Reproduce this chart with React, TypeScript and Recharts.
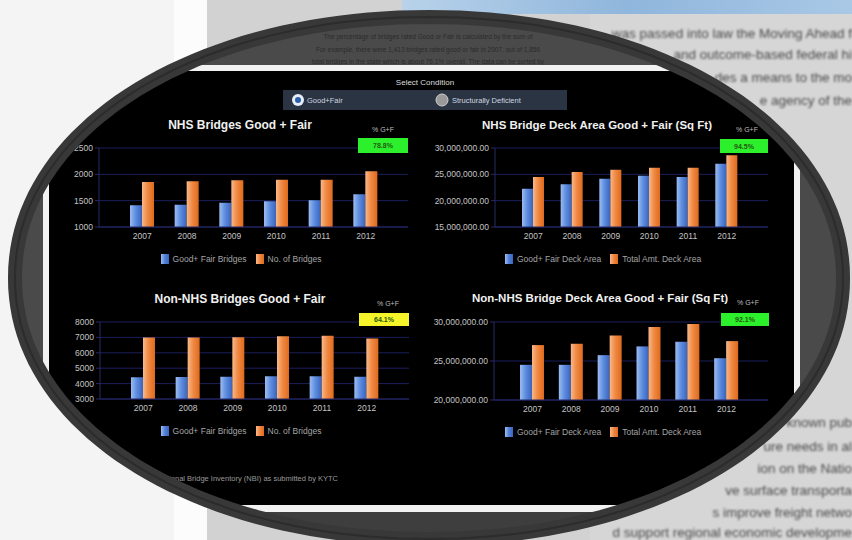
import { BarChart, Bar, XAxis, YAxis, CartesianGrid, Legend } from "recharts";

const years = ["2007", "2008", "2009", "2010", "2011", "2012"];

// NHS bridges (count)
const nhsGoodFair = [1411, 1424, 1462, 1487, 1506, 1620];
const nhsTotal = [1854, 1867, 1886, 1899, 1899, 2057];
// NHS deck area (sq ft)
const nhsDeckGoodFair = [22280000, 23100000, 24180000, 24750000, 24490000, 27030000];
const nhsDeckTotal = [24490000, 25440000, 25890000, 26270000, 26270000, 28610000];
// Non-NHS bridges (count)
const nonNhsGoodFair = [4420, 4430, 4450, 4470, 4480, 4440];
const nonNhsTotal = [6990, 6995, 7015, 7075, 7100, 6930];
// Non-NHS deck area (sq ft)
const nonNhsDeckGoodFair = [24510000, 24510000, 25750000, 26870000, 27470000, 25360000];
const nonNhsDeckTotal = [27040000, 27210000, 28280000, 29360000, 29740000, 27550000];

const countTicksNhs = [1000, 1500, 2000, 2500];
const countTicksNonNhs = [3000, 4000, 5000, 6000, 7000, 8000];
const areaTicksNhs = [15000000, 20000000, 25000000, 30000000];
const areaTicksNonNhs = [20000000, 25000000, 30000000];

const FONT = "'Liberation Sans', Arial, sans-serif";
const GRID = "#1b1f5c";

const fmtArea = (v: number) =>
  v.toLocaleString("en-US", { minimumFractionDigits: 2, maximumFractionDigits: 2 });

function ovalPath(cx: number, cy: number, a: number, b: number, n: number) {
  const pts: string[] = [];
  for (let i = 0; i < 360; i += 2) {
    const t = (i * Math.PI) / 180;
    const c = Math.cos(t);
    const s = Math.sin(t);
    const x = cx + a * Math.sign(c) * Math.pow(Math.abs(c), 2 / n);
    const y = cy + b * Math.sign(s) * Math.pow(Math.abs(s), 2 / n);
    pts.push(`${x.toFixed(1)},${y.toFixed(1)}`);
  }
  return "M" + pts.join("L") + "Z";
}

const OVAL = ovalPath(429, 278, 414, 261, 2.05);

type PanelCfg = {
  id: string;
  left: number;
  top: number;
  width: number;
  height: number;
  yWidth: number;
  domain: [number, number];
  ticks: number[];
  fmt?: (v: number) => string;
  good: number[];
  total: number[];
  names: [string, string];
  padL: number;
  padR: number;
  barSize: number;
  legendCenter: number;
};

function LegendRow({ names, id }: { names: [string, string]; id: string }) {
  const sq = (bg: string) => (
    <span
      style={{
        display: "inline-block",
        width: 8,
        height: 10,
        background: bg,
        marginRight: 4,
      }}
    />
  );
  return (
    <div
      key={id}
      style={{
        height: 22,
        display: "flex",
        alignItems: "center",
        justifyContent: "center",
        fontFamily: FONT,
        fontSize: 8.5,
        color: "#a5a5a5",
        whiteSpace: "nowrap",
      }}
    >
      {sq("linear-gradient(90deg,#9dbcf0,#4f7fd6 50%,#3c66c0)")}
      <span style={{ marginRight: 9 }}>{names[0]}</span>
      {sq("linear-gradient(90deg,#f7b98a,#ef8640 50%,#e06a1c)")}
      <span>{names[1]}</span>
    </div>
  );
}

function Panel(c: PanelCfg) {
  const data = years.map((y, i) => ({ year: y, good: c.good[i], total: c.total[i] }));
  const tickStyle = { fill: "#c4c4c4", fontSize: 8.5, fontFamily: FONT };
  return (
    <div style={{ position: "absolute", left: c.left, top: c.top }}>
      <BarChart
        width={c.width}
        height={c.height}
        data={data}
        margin={{ top: 8, right: 12, left: 0, bottom: 0 }}
        barGap={0}
      >
        <defs>
          <linearGradient id={`gb-${c.id}`} x1="0" y1="0" x2="1" y2="0">
            <stop offset="0%" stopColor="#9dbcf0" />
            <stop offset="45%" stopColor="#5f8fe0" />
            <stop offset="100%" stopColor="#3a63bd" />
          </linearGradient>
          <linearGradient id={`go-${c.id}`} x1="0" y1="0" x2="1" y2="0">
            <stop offset="0%" stopColor="#f8b98a" />
            <stop offset="45%" stopColor="#f08a45" />
            <stop offset="100%" stopColor="#df6a1c" />
          </linearGradient>
        </defs>
        <CartesianGrid vertical={false} stroke={GRID} />
        <XAxis
          dataKey="year"
          tick={tickStyle}
          tickLine={false}
          tickSize={4}
          height={21}
          axisLine={{ stroke: "#262a66" }}
          padding={{ left: c.padL, right: c.padR }}
        />
        <YAxis
          width={c.yWidth}
          domain={c.domain}
          ticks={c.ticks}
          interval={0}
          allowDataOverflow
          tickFormatter={c.fmt}
          tick={tickStyle}
          tickSize={4}
          tickLine={{ stroke: "#262a66" }}
          axisLine={{ stroke: "#262a66" }}
        />
        <Legend
          verticalAlign="bottom"
          height={22}
          wrapperStyle={{ left: c.legendCenter - 110, width: 220, height: 22 }}
          content={() => <LegendRow names={c.names} id={c.id} />}
        />
        <Bar dataKey="good" name={c.names[0]} fill={`url(#gb-${c.id})`} barSize={c.barSize} isAnimationActive={false} />
        <Bar dataKey="total" name={c.names[1]} fill={`url(#go-${c.id})`} barSize={c.barSize} isAnimationActive={false} />
      </BarChart>
    </div>
  );
}

const rightTextTop = [
  { y: 38, t: "was passed into law the Moving Ahead f" },
  { y: 59, t: "and outcome-based federal hi" },
  { y: 82, t: "des a means to the mo" },
  { y: 105, t: "e agency of the" },
];
const rightTextBottom = [
  { y: 427, t: "known pub" },
  { y: 451, t: "ure needs in al" },
  { y: 473, t: "ion on the Natio" },
  { y: 495, t: "ve surface transporta" },
  { y: 517, t: "s improve freight netwo" },
  { y: 537, t: "d support regional economic developme" },
];
const innerText = [
  "The percentage of bridges rated Good or Fair is calculated by the sum of",
  "For example, there were 1,413 bridges rated good or fair in 2007, out of 1,856",
  "total bridges in the state which is about 76.1% overall. The data can be sorted by",
];

function Badge({ x, y, w, h, fill, text, labelX, labelY }: any) {
  return (
    <g fontFamily={FONT}>
      <text x={labelX} y={labelY} fontSize={7} fill="#bdbdbd" textAnchor="middle">
        % G+F
      </text>
      <rect x={x} y={y} width={w} height={h} fill={fill} />
      <text x={x + w / 2} y={y + h / 2 + 2.5} fontSize={7} fill="#245a10" textAnchor="middle" fontWeight="bold">
        {text}
      </text>
    </g>
  );
}

export default function App() {
  return (
    <div style={{ position: "absolute", left: 0, top: 0, width: 852, height: 540, overflow: "hidden", background: "#4a4a4a" }}>
      {/* inside of the oval: darkened page and dashboard panel */}
      <svg width={852} height={540} style={{ position: "absolute", left: 0, top: 0 }}>
        <rect x={0} y={0} width={852} height={540} fill="#4a4a4a" />
        <rect x={0} y={512} width={852} height={28} fill="#3e3e3e" />
        {innerText.map((t, i) => (
          <text key={i} x={428} y={39 + i * 12.5} fontSize={6.5} fill="#2b2b2b" textAnchor="middle" fontFamily={FONT}>
            {t}
          </text>
        ))}
        <rect x={43} y={65} width={757} height={447} fill="#f2f2f2" />
        <rect x={49} y={71} width={745} height={434} fill="#000" />
        <text x={425} y={85} fontSize={8} fill="#dcdcdc" textAnchor="middle" fontFamily={FONT}>
          Select Condition
        </text>
        <rect x={283} y={90} width={284} height={20} fill="#2a3442" />
        <circle cx={298} cy={100} r={6} fill="#e6edf7" />
        <circle cx={298} cy={100} r={3} fill="#2a5ea8" />
        <text x={307} y={103} fontSize={7.5} fill="#cfd6e0" fontFamily={FONT}>
          Good+Fair
        </text>
        <circle cx={442} cy={100} r={6} fill="#9a9a9a" stroke="#cfcfcf" strokeWidth={1} />
        <text x={452} y={103} fontSize={7.5} fill="#cfd6e0" fontFamily={FONT}>
          Structurally Deficient
        </text>
        <g fontFamily={FONT} fontWeight="bold" fill="#f0f0f0" textAnchor="middle">
          <text x={240} y={129} fontSize={12}>NHS Bridges Good + Fair</text>
          <text x={597} y={129} fontSize={11.5}>NHS Bridge Deck Area Good + Fair (Sq Ft)</text>
          <text x={240} y={303} fontSize={12}>Non-NHS Bridges Good + Fair</text>
          <text x={600} y={302} fontSize={11.5}>Non-NHS Bridge Deck Area Good + Fair (Sq Ft)</text>
        </g>
        <text x={338} y={481} fontSize={7.5} fill="#9a9a9a" textAnchor="end" fontFamily={FONT}>
          Source: Data from National Bridge Inventory (NBI) as submitted by KYTC
        </text>
      </svg>

      <Panel
        id="a"
        left={30}
        top={140}
        width={390}
        height={130}
        yWidth={69}
        domain={[1000, 2500]}
        ticks={countTicksNhs}
        good={nhsGoodFair}
        total={nhsTotal}
        names={["Good+ Fair Bridges", "No. of Bridges"]}
        padL={21}
        padR={20}
        barSize={12}
        legendCenter={211}
      />
      <Panel
        id="b"
        left={420}
        top={140}
        width={360}
        height={130}
        yWidth={75}
        domain={[15000000, 30000000]}
        ticks={areaTicksNhs}
        fmt={fmtArea}
        good={nhsDeckGoodFair}
        total={nhsDeckTotal}
        names={["Good+ Fair Deck Area", "Total Amt. Deck Area"]}
        padL={19}
        padR={22}
        barSize={11}
        legendCenter={183}
      />
      <Panel
        id="c"
        left={30}
        top={314}
        width={391}
        height={128}
        yWidth={70}
        domain={[3000, 8000]}
        ticks={countTicksNonNhs}
        good={nonNhsGoodFair}
        total={nonNhsTotal}
        names={["Good+ Fair Bridges", "No. of Bridges"]}
        padL={21}
        padR={20}
        barSize={12}
        legendCenter={211}
      />
      <Panel
        id="d"
        left={420}
        top={314}
        width={360}
        height={129}
        yWidth={74}
        domain={[20000000, 30000000]}
        ticks={areaTicksNonNhs}
        fmt={fmtArea}
        good={nonNhsDeckGoodFair}
        total={nonNhsDeckTotal}
        names={["Good+ Fair Deck Area", "Total Amt. Deck Area"]}
        padL={19}
        padR={22}
        barSize={12}
        legendCenter={183}
      />

      {/* badges above the plots */}
      <svg width={852} height={540} style={{ position: "absolute", left: 0, top: 0, pointerEvents: "none" }}>
        <Badge x={358} y={138} w={50} h={15} fill="#2cf02c" text="78.8%" labelX={383} labelY={132} />
        <Badge x={720} y={139} w={48} h={14} fill="#2cf02c" text="94.5%" labelX={747} labelY={132} />
        <Badge x={359} y={313} w={50} h={13} fill="#f5f52a" text="64.1%" labelX={388} labelY={306} />
        <Badge x={721} y={313} w={48} h={13} fill="#2cf02c" text="92.1%" labelX={748} labelY={305} />
      </svg>

      {/* page outside the oval, and the oval ring */}
      <svg width={852} height={540} style={{ position: "absolute", left: 0, top: 0, pointerEvents: "none" }}>
        <defs>
          <clipPath id="outside">
            <path clipRule="evenodd" d={"M0,0H852V540H0Z " + OVAL} />
          </clipPath>
          <linearGradient id="sky" x1="0" y1="0" x2="1" y2="0">
            <stop offset="0%" stopColor="#b8d2ea" />
            <stop offset="50%" stopColor="#8fb6dc" />
            <stop offset="100%" stopColor="#a9c8e6" />
          </linearGradient>
          <filter id="soft">
            <feGaussianBlur stdDeviation="0.9" />
          </filter>
        </defs>
        <g clipPath="url(#outside)">
          <rect x={0} y={0} width={174} height={540} fill="#f4f4f4" />
          <rect x={174} y={0} width={33} height={540} fill="#fcfcfc" />
          <rect x={207} y={0} width={383} height={540} fill="#d2d2d2" />
          <rect x={590} y={0} width={262} height={540} fill="#d6d6d6" />
          <rect x={402} y={0} width={450} height={14} fill="url(#sky)" />
          <g fontFamily={FONT} fontSize={13.5} fill="#4a4a4a" filter="url(#soft)">
            {rightTextTop.map((r, i) => (
              <text key={i} x={852} y={r.y} textAnchor="end">
                {r.t}
              </text>
            ))}
            {rightTextBottom.map((r, i) => (
              <text key={i} x={852} y={r.y} textAnchor="end">
                {r.t}
              </text>
            ))}
          </g>
        </g>
        <path d={OVAL} fill="none" stroke="#383838" strokeWidth={14} />
        <path d={OVAL} fill="none" stroke="#2c2c2c" strokeWidth={2} />
      </svg>
    </div>
  );
}
